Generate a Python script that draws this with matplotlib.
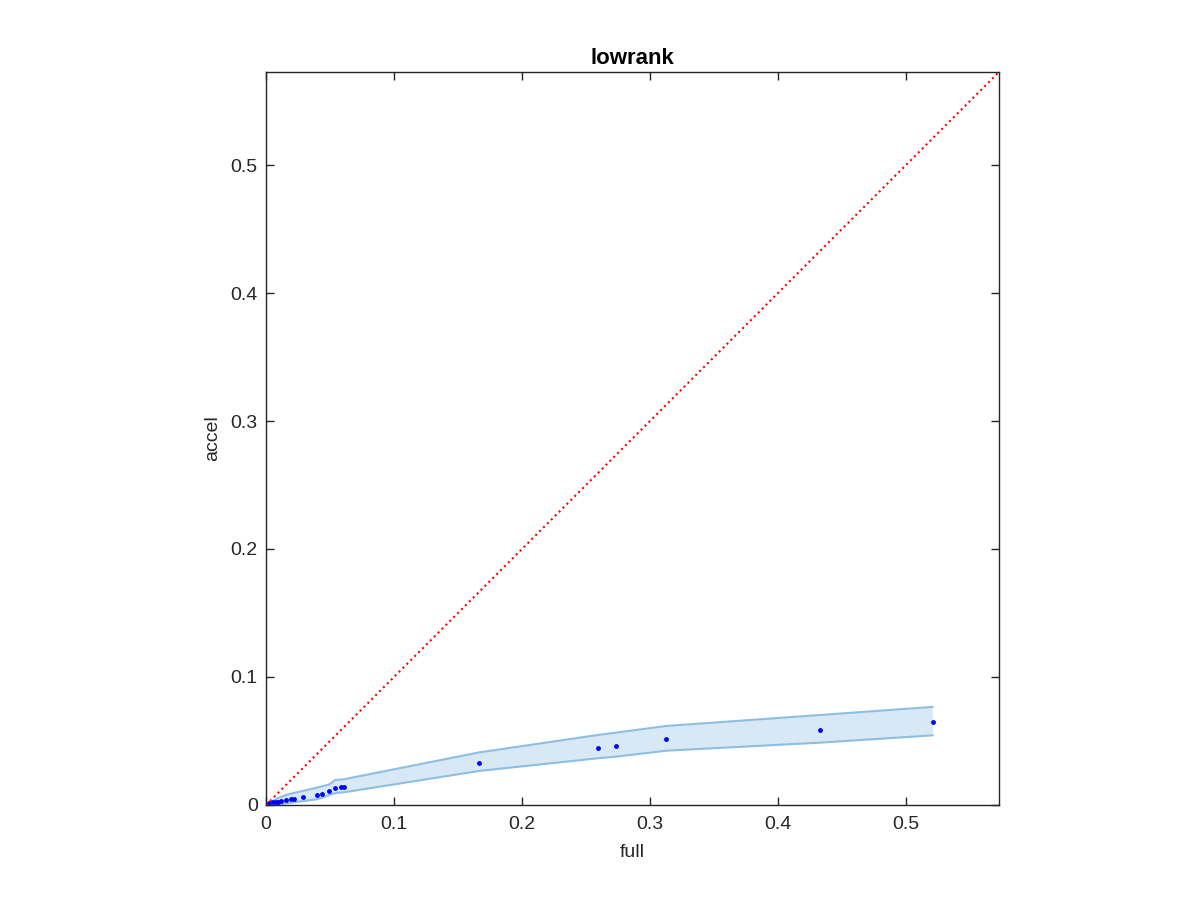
import numpy as np
import matplotlib.pyplot as plt

# data
full = [0.0005, 0.0026, 0.0052, 0.0078, 0.0096, 0.0115, 0.0156, 0.0193, 0.0221,
        0.0292, 0.0396, 0.0435, 0.0495, 0.0539, 0.0583, 0.0609,
        0.1667, 0.2594, 0.2732, 0.3127, 0.4331, 0.5208]
accel = [0.0000, 0.0013, 0.0020, 0.0026, 0.0026, 0.0029, 0.0039, 0.0044, 0.0049,
         0.0063, 0.0080, 0.0088, 0.0112, 0.0133, 0.0138, 0.0138,
         0.0331, 0.0445, 0.0457, 0.0513, 0.0586, 0.0645]
upper = [0.0008, 0.0020, 0.0030, 0.0045, 0.0055, 0.0062, 0.0078, 0.0088, 0.0095,
         0.0110, 0.0135, 0.0145, 0.0160, 0.0195, 0.0198, 0.0201,
         0.0411, 0.0547, 0.0565, 0.0617, 0.0703, 0.0766]
lower = [0.0000, 0.0000, 0.0000, 0.0004, 0.0006, 0.0008, 0.0013, 0.0018, 0.0022,
         0.0030, 0.0044, 0.0055, 0.0078, 0.0092, 0.0097, 0.0099,
         0.0266, 0.0365, 0.0377, 0.0424, 0.0487, 0.0544]

lim = 0.5727

plt.rcParams['font.family'] = ['Liberation Sans', 'DejaVu Sans']

fig = plt.figure(figsize=(12, 9), dpi=100)
ax = fig.add_axes([0.2217, 0.1056, 0.6108, 0.8144])

ax.fill_between(full, lower, upper, color=(0.85, 0.91, 0.96), lw=0)
ax.plot(full, upper, color=(0.55, 0.75, 0.89), lw=1.5)
ax.plot(full, lower, color=(0.55, 0.75, 0.89), lw=1.5)
ax.plot(full, accel, 'o', color='blue', markersize=3.5, markeredgewidth=0)
ax.plot([0, lim], [0, lim], ':', color='red', lw=1.5)

ax.set_xlim(0, lim)
ax.set_ylim(0, lim)
ticks = [0, 0.1, 0.2, 0.3, 0.4, 0.5]
labels = ['0', '0.1', '0.2', '0.3', '0.4', '0.5']
ax.set_xticks(ticks)
ax.set_xticklabels(labels)
ax.set_yticks(ticks)
ax.set_yticklabels(labels)
ax.tick_params(direction='in', top=True, right=True, length=6, width=1,
               color='#262626', labelsize=14, labelcolor='#262626')
ax.tick_params(axis='y', pad=6)
ax.tick_params(axis='x', pad=8)
for s in ax.spines.values():
    s.set_color('#262626')
    s.set_linewidth(1)

ax.set_xlabel('full', fontsize=14, color='#262626', labelpad=8)
ax.set_ylabel('accel', fontsize=14, color='#262626', labelpad=7)
ax.set_title('lowrank', fontsize=16, fontweight='bold', pad=6)

fig.savefig('out.png', dpi=100)
